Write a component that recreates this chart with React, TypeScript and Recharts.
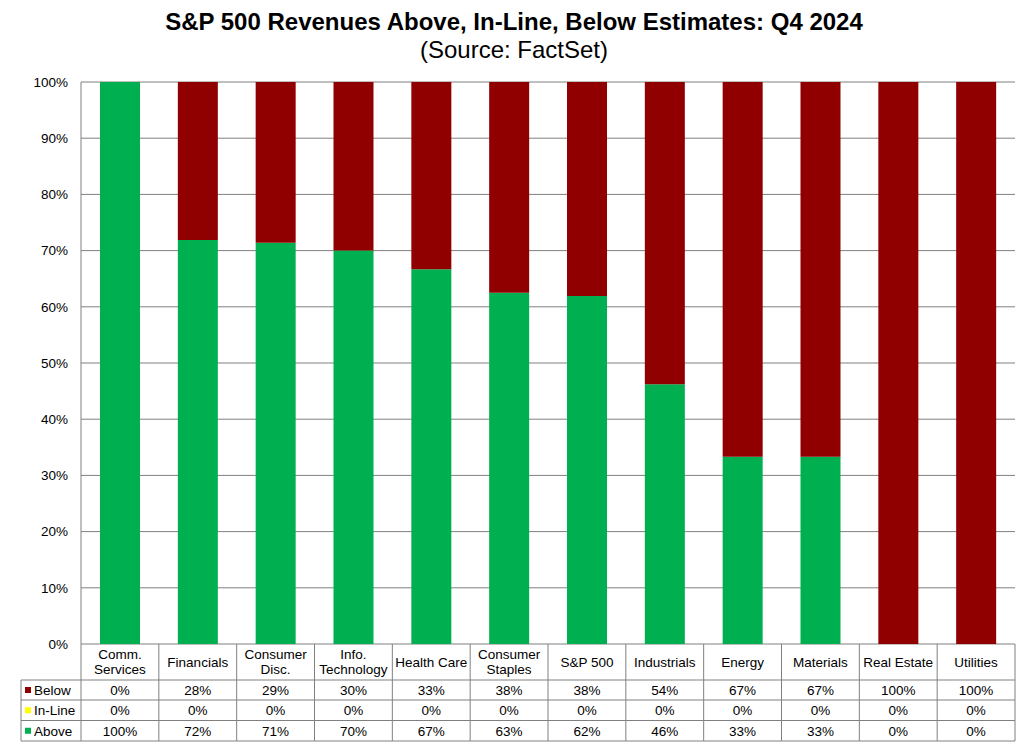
import React from 'react';
import { BarChart, Bar, XAxis, YAxis, CartesianGrid } from 'recharts';

const categories = ['Comm. Services', 'Financials', 'Consumer Disc.', 'Info. Technology', 'Health Care', 'Consumer Staples', 'S&P 500', 'Industrials', 'Energy', 'Materials', 'Real Estate', 'Utilities'];
const categoryLines = [['Comm.', 'Services'], ['Financials'], ['Consumer', 'Disc.'], ['Info.', 'Technology'], ['Health Care'], ['Consumer', 'Staples'], ['S&P 500'], ['Industrials'], ['Energy'], ['Materials'], ['Real Estate'], ['Utilities']];
const above = [100, 71.9, 71.4, 70.0, 66.7, 62.5, 61.9, 46.2, 33.3, 33.3, 0, 0];
const inLine = [0, 0, 0, 0, 0, 0, 0, 0, 0, 0, 0, 0];
const below = [0, 28.1, 28.6, 30.0, 33.3, 37.5, 38.1, 53.8, 66.7, 66.7, 100, 100];
const yTicks = [0, 10, 20, 30, 40, 50, 60, 70, 80, 90, 100];

const seriesRows = [
  { key: 'below', label: 'Below', color: '#900000', values: below },
  { key: 'inLine', label: 'In-Line', color: '#FFFF00', values: inLine },
  { key: 'above', label: 'Above', color: '#00B050', values: above },
];

const data = categories.map((name, i) => ({ name, above: above[i], inLine: inLine[i], below: below[i] }));

const W = 1028;
const H = 745;
const LEFT = 81;
const RIGHT = 13;
const TOP = 82;
const XH = 101;
const BAND = (W - LEFT - RIGHT) / categories.length;
const FONT = "Arial, 'Liberation Sans', sans-serif";
const GRID = '#808080';
const FS = 13.5;
const ROW_Y = [36, 56, 76.5, 97];

const TableTick = (props: any) => {
  const { x, y, payload } = props;
  const i = payload.index;
  const lines = categoryLines[i];
  const l = x - BAND / 2;
  const r = x + BAND / 2;
  const headerBaselines = lines.length === 1 ? [22.5] : [14.5, 29.5];
  return (
    <g fontFamily={FONT} fontSize={FS} fill="#000">
      {lines.map((t: string, k: number) => (
        <text key={k} x={x} y={y + headerBaselines[k]} textAnchor="middle" fill="#000">{t}</text>
      ))}
      {seriesRows.map((s, k) => (
        <text key={s.key} x={x} y={y + (ROW_Y[k] + ROW_Y[k + 1]) / 2 + 4.8} textAnchor="middle" fill="#000">
          {Math.round(s.values[i])}%
        </text>
      ))}
      <line x1={r} x2={r} y1={y} y2={y + ROW_Y[3]} stroke={GRID} />
      {ROW_Y.map((ry, k) => (
        <line key={k} x1={l} x2={r} y1={y + ry} y2={y + ry} stroke={GRID} />
      ))}
      {i === 0 && (
        <g>
          <line x1={l} x2={l} y1={y} y2={y + ROW_Y[3]} stroke={GRID} />
          <line x1={21} x2={21} y1={y + ROW_Y[0]} y2={y + ROW_Y[3]} stroke={GRID} />
          {ROW_Y.map((ry, k) => (
            <line key={'h' + k} x1={21} x2={l} y1={y + ry} y2={y + ry} stroke={GRID} />
          ))}
          {seriesRows.map((s, k) => {
            const cy = y + (ROW_Y[k] + ROW_Y[k + 1]) / 2;
            return (
              <g key={'lg' + s.key}>
                <rect x={25} y={cy - 3} width={6} height={6} fill={s.color} />
                <text x={34} y={cy + 4.8} textAnchor="start" fill="#000">{s.label}</text>
              </g>
            );
          })}
        </g>
      )}
    </g>
  );
};

export default function App() {
  return (
    <div style={{ position: 'absolute', left: 0, top: 0, width: W, height: H, background: '#fff', fontFamily: FONT }}>
      <div style={{ position: 'absolute', left: 0, top: 8, width: W, textAlign: 'center', fontSize: 24, fontWeight: 'bold', lineHeight: '28px', color: '#000' }}>
        S&amp;P 500 Revenues Above, In-Line, Below Estimates: Q4 2024
      </div>
      <div style={{ position: 'absolute', left: 0, top: 36, width: W, textAlign: 'center', fontSize: 24, lineHeight: '28px', color: '#000' }}>
        (Source: FactSet)
      </div>
      <BarChart width={W} height={H} data={data} margin={{ top: TOP, right: RIGHT, left: 0, bottom: 0 }} barSize={40}>
        <CartesianGrid horizontal={true} vertical={false} stroke={GRID} strokeOpacity={1} />
        <XAxis dataKey="name" height={XH} interval={0} axisLine={false} tickLine={false} tickSize={0} tickMargin={0} tick={<TableTick />} />
        <YAxis width={LEFT} domain={[0, 100]} ticks={yTicks} interval={0} tickFormatter={(v: number) => v + '%'} axisLine={{ stroke: GRID }} tickLine={false} tickSize={0} tickMargin={13} tick={{ fill: '#000', fontSize: FS, fontFamily: FONT }} allowDataOverflow />
        <Bar dataKey="above" stackId="a" fill="#00B050" isAnimationActive={false} />
        <Bar dataKey="inLine" stackId="a" fill="#FFFF00" isAnimationActive={false} />
        <Bar dataKey="below" stackId="a" fill="#900000" isAnimationActive={false} />
      </BarChart>
    </div>
  );
}
